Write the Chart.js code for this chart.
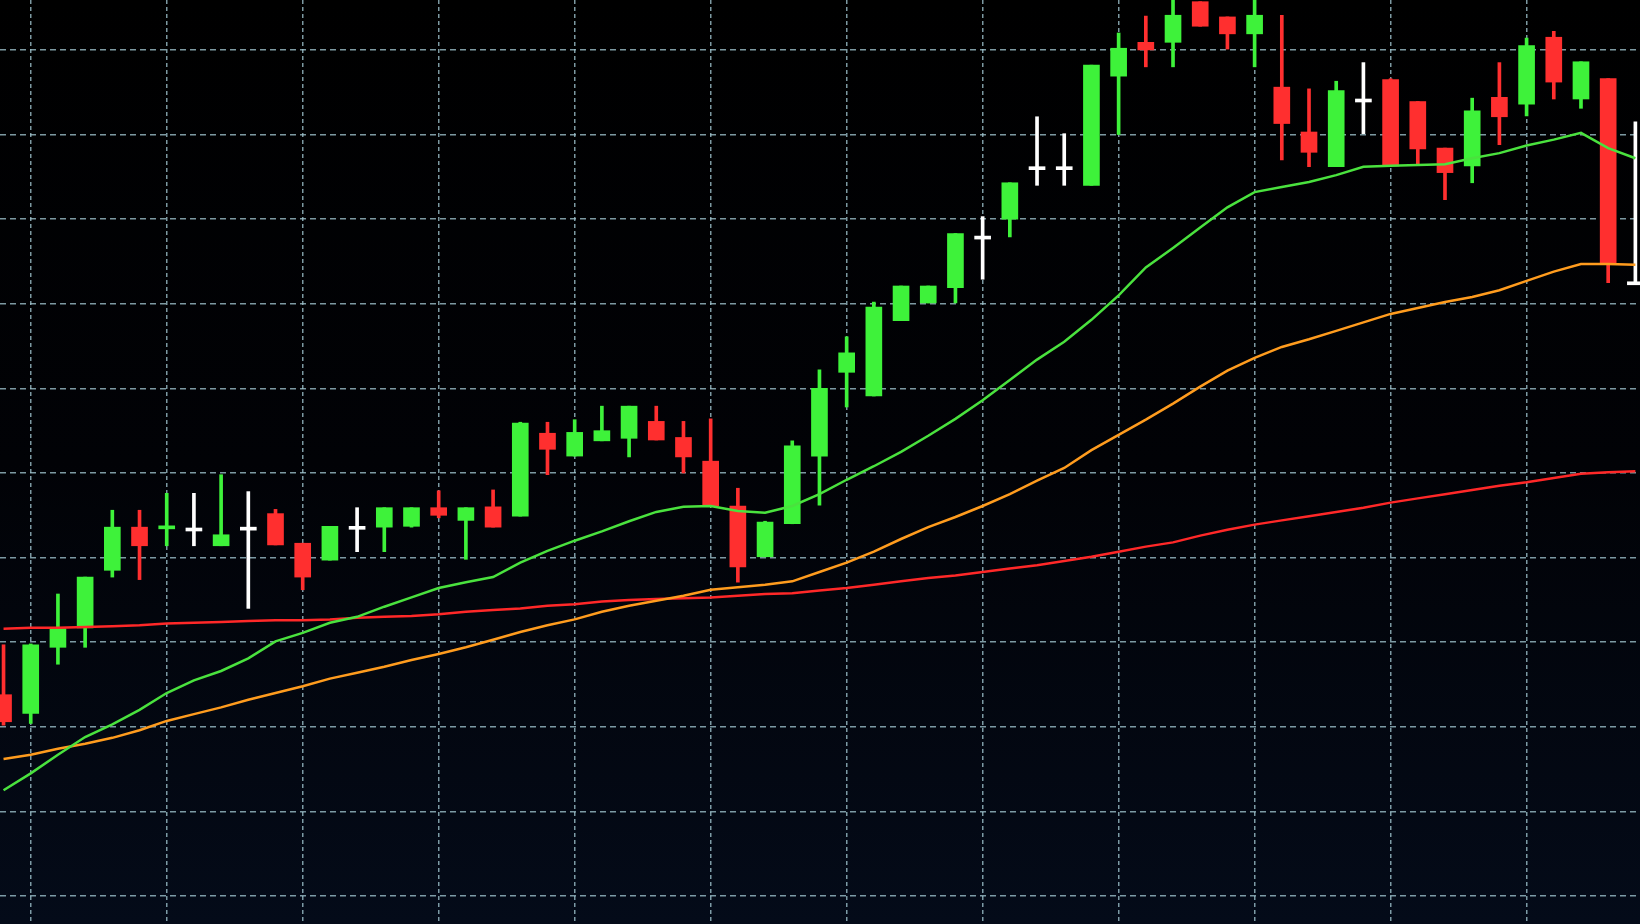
<!DOCTYPE html>
<html lang="en">
<head>
    <meta charset="UTF-8">
    <meta name="viewport" content="width=device-width, initial-scale=1.0">
    <title>Candlestick Chart</title>
    <script src="https://cdn.jsdelivr.net/npm/chart.js"></script>
    <style>
        html, body {
            margin: 0;
            padding: 0;
        }
        body {
            width: 1640px;
            height: 924px;
            overflow: hidden;
            background: linear-gradient(#000000 0%, #010206 50%, #040b19 100%);
        }
        .container {
            position: relative;
            width: 1640px;
            height: 924px;
        }
    </style>
</head>
<body>
    <div class="container">
        <canvas id="priceChart"></canvas>
    </div>

    <script>
        // candle values (one per bar, left to right)
        let opens = [23.8, 21.6, 29.4, 31.7, 38.5, 43.6, 43.4, 43.5, 41.4, 43.6,
                     45.2, 41.7, 39.7, 43.7, 43.6, 43.7, 45.9, 44.4, 46.0, 44.9,
                     54.7, 52.0, 53.8, 54.1, 56.1, 54.2, 51.4, 46.1, 40.1, 44.0,
                     52.0, 61.9, 59.1, 68.0, 70.1, 71.9, 78.0, 80.0, 86.2, 86.2,
                     84.0, 96.9, 100.9, 100.9, 105.7, 103.9, 101.9, 95.6, 90.3, 86.2,
                     94.2, 96.5, 93.9, 88.4, 86.3, 94.4, 93.6, 101.5, 94.2, 96.6,
                     72.6];
        let highs = [29.7, 29.8, 35.7, 37.7, 45.6, 45.6, 47.6, 47.6, 49.8, 47.8,
                     45.7, 41.7, 43.7, 45.9, 45.9, 45.9, 47.9, 45.9, 48.0, 56.0,
                     56.0, 56.3, 57.9, 57.9, 57.9, 56.1, 56.4, 48.2, 44.3, 53.8,
                     62.2, 66.1, 70.2, 72.1, 72.1, 78.3, 80.3, 84.3, 92.1, 90.1,
                     98.2, 102.0, 104.0, 106.5, 105.7, 103.9, 106.5, 104.1, 95.4, 96.3,
                     98.5, 96.6, 93.9, 88.4, 94.3, 98.5, 101.4, 102.2, 98.6, 96.6,
                     91.5];
        let lows = [20.2, 20.4, 27.4, 29.4, 37.7, 37.4, 41.4, 41.4, 41.4, 34.0,
                    41.5, 36.2, 39.7, 40.7, 40.7, 43.6, 44.7, 39.8, 43.6, 44.9,
                    49.8, 52.0, 53.8, 51.9, 53.9, 50.0, 46.1, 37.1, 40.1, 44.0,
                    46.2, 57.8, 59.1, 68.0, 70.1, 70.1, 72.9, 77.9, 84.0, 84.0,
                    84.0, 90.0, 98.0, 98.0, 102.8, 100.1, 98.0, 87.0, 86.2, 86.2,
                    90.1, 86.3, 86.5, 82.3, 84.3, 88.8, 92.2, 94.2, 93.1, 72.5,
                    72.5];
        let closes = [20.6, 29.7, 31.6, 37.7, 43.6, 41.4, 43.6, 43.5, 42.7, 43.6,
                      41.5, 37.7, 43.7, 43.7, 45.9, 45.9, 45.0, 45.9, 43.6, 55.9,
                      52.8, 54.8, 55.0, 57.9, 53.9, 51.9, 46.1, 38.9, 44.2, 53.2,
                      60.0, 64.2, 69.6, 72.1, 72.1, 78.3, 78.0, 84.3, 86.2, 86.2,
                      98.2, 100.2, 100.0, 104.1, 102.8, 101.9, 104.1, 91.3, 87.9, 95.2,
                      94.2, 86.3, 88.3, 85.5, 92.8, 92.1, 100.5, 96.2, 98.6, 74.8,
                      72.6];

        // moving averages
        let maFast = [12.5, 14.5, 16.7, 18.8, 20.3, 22.0, 24.0, 25.5, 26.6, 28.1,
                      30.1, 31.1, 32.3, 33.0, 34.2, 35.3, 36.4, 37.1, 37.7, 39.4,
                      40.8, 42.0, 43.1, 44.3, 45.4, 46.0, 46.1, 45.5, 45.3, 46.1,
                      47.5, 49.2, 50.8, 52.5, 54.4, 56.4, 58.6, 61.0, 63.4, 65.5,
                      68.1, 71.0, 74.3, 76.6, 79.0, 81.4, 83.2, 83.8, 84.4, 85.2,
                      86.2, 86.3, 86.4, 86.5, 87.2, 87.8, 88.7, 89.4, 90.2, 88.4,
                      87.2];
        let maMid = [16.2, 16.7, 17.4, 18.0, 18.7, 19.6, 20.7, 21.5, 22.3, 23.2,
                     24.0, 24.8, 25.7, 26.4, 27.1, 27.9, 28.6, 29.4, 30.3, 31.2,
                     32.0, 32.7, 33.6, 34.3, 34.9, 35.5, 36.2, 36.5, 36.8, 37.2,
                     38.3, 39.4, 40.7, 42.2, 43.6, 44.8, 46.1, 47.5, 49.1, 50.6,
                     52.7, 54.5, 56.3, 58.2, 60.2, 62.1, 63.6, 64.9, 65.8, 66.8,
                     67.8, 68.8, 69.5, 70.2, 70.8, 71.6, 72.7, 73.8, 74.7, 74.7,
                     74.6];
        let maSlow = [31.6, 31.7, 31.7, 31.8, 31.9, 32.0, 32.2, 32.3, 32.4, 32.5,
                      32.6, 32.6, 32.7, 32.9, 33.0, 33.1, 33.3, 33.6, 33.8, 34.0,
                      34.3, 34.5, 34.8, 35.0, 35.1, 35.2, 35.3, 35.5, 35.7, 35.8,
                      36.1, 36.4, 36.8, 37.2, 37.6, 37.9, 38.3, 38.7, 39.1, 39.6,
                      40.1, 40.7, 41.3, 41.8, 42.6, 43.3, 43.9, 44.4, 44.9, 45.4,
                      45.9, 46.5, 47.0, 47.5, 48.0, 48.5, 48.9, 49.4, 49.9, 50.1,
                      50.2];

        // grid line positions (bar index / price)
        let gridX = [1, 6, 11, 16, 21, 26, 31, 36, 41, 46, 51, 56];
        let gridY = [0, 10, 20, 30, 40, 50, 60, 70, 80, 90, 100];

        let gridColor = 'rgba(160, 196, 206, 0.78)';

        function candleColor(i) {
            if (closes[i] > opens[i]) return '#3ef23a';
            if (closes[i] < opens[i]) return '#ff2f2f';
            return '#ffffff';
        }

        let idx = opens.map((o, i) => i);
        let colors = idx.map(candleColor);

        function maPoints(arr) {
            return arr.map((v, i) => ({ x: i, y: v }));
        }

        let ctx = document.getElementById('priceChart').getContext('2d');
        let priceChart = new Chart(ctx, {
            type: 'bar',
            data: {
                datasets: [
                    {
                        type: 'line', label: 'MA fast', data: maPoints(maFast),
                        borderColor: '#4ae23e', borderWidth: 2.5, pointRadius: 0, order: 0
                    },
                    {
                        type: 'line', label: 'MA mid', data: maPoints(maMid),
                        borderColor: '#ff9c1e', borderWidth: 2.5, pointRadius: 0, order: 0
                    },
                    {
                        type: 'line', label: 'MA slow', data: maPoints(maSlow),
                        borderColor: '#ff2828', borderWidth: 2.5, pointRadius: 0, order: 0
                    },
                    {
                        label: 'Body',
                        data: idx.map(i => ({ x: i, y: [opens[i], closes[i]] })),
                        backgroundColor: colors, borderWidth: 0,
                        barThickness: 16, minBarLength: 3, grouped: false, order: 1
                    },
                    {
                        label: 'Wick',
                        data: idx.map(i => ({ x: i, y: [lows[i], highs[i]] })),
                        backgroundColor: colors, borderWidth: 0,
                        barThickness: 3, grouped: false, order: 2
                    }
                ]
            },
            options: {
                responsive: true,
                maintainAspectRatio: false,
                animation: false,
                layout: { padding: 0 },
                plugins: {
                    legend: { display: false },
                    tooltip: { enabled: false }
                },
                scales: {
                    x: {
                        type: 'linear',
                        min: -0.13,
                        max: 60.17,
                        offset: false,
                        grid: { color: gridColor, lineWidth: 1.5, drawTicks: false, offset: false },
                        border: { display: false, dash: [4, 3] },
                        ticks: { display: false },
                        afterBuildTicks: axis => { axis.ticks = gridX.map(v => ({ value: v })); }
                    },
                    y: {
                        type: 'linear',
                        min: -3.3,
                        max: 105.9,
                        grid: { color: gridColor, lineWidth: 1.5, drawTicks: false },
                        border: { display: false, dash: [6, 4] },
                        ticks: { display: false },
                        afterBuildTicks: axis => { axis.ticks = gridY.map(v => ({ value: v })); }
                    }
                }
            }
        });
    </script>
</body>
</html>
